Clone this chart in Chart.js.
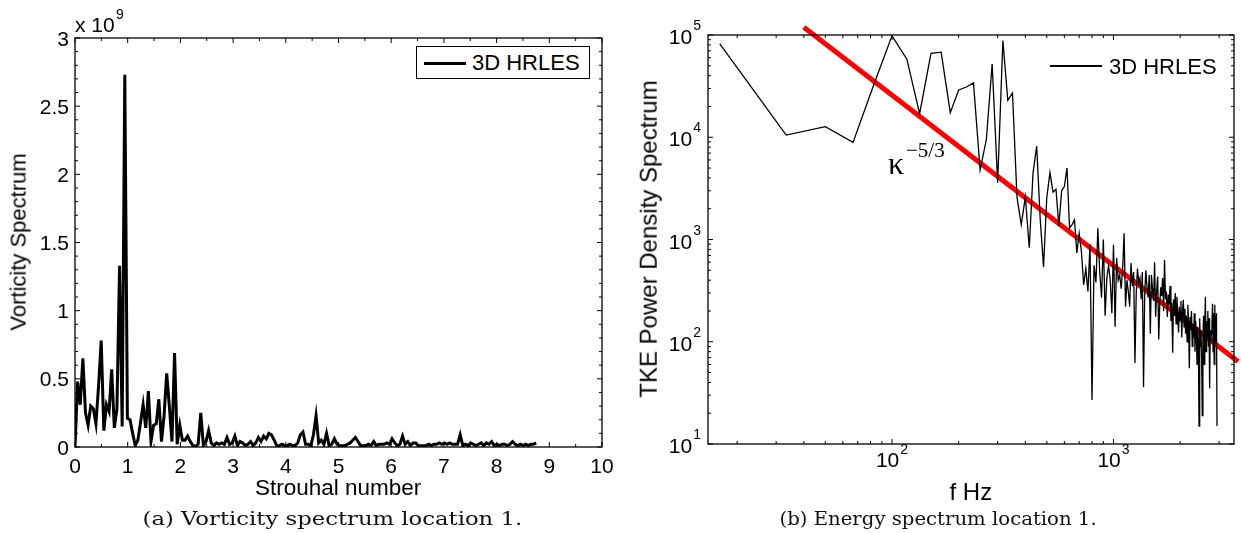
<!DOCTYPE html>
<html><head><meta charset="utf-8">
<script src="https://cdn.jsdelivr.net/npm/chart.js@4.4.1/dist/chart.umd.min.js"></script>
<style>
html,body{margin:0;padding:0;background:#fff;}
#wrap{position:relative;width:1241px;height:533px;overflow:hidden;background:#fff;}
.cv{position:absolute;top:0;}
.t{position:absolute;white-space:nowrap;font-family:'Liberation Sans',Arial,sans-serif;color:#000;line-height:1;}
.s{position:absolute;white-space:nowrap;font-family:'Liberation Serif','Times New Roman',serif;color:#000;line-height:1;}
.cap{position:absolute;white-space:nowrap;font-family:'DejaVu Serif',serif;color:#111;line-height:1;transform-origin:50% 50%;}
</style></head><body>
<div id="wrap">
  <div class="cv" style="left:0;width:620px;height:533px"><canvas id="c1" width="620" height="533"></canvas></div>
  <div class="cv" style="left:620px;width:621px;height:533px"><canvas id="c2" width="621" height="533"></canvas></div>
</div>
<script>
// ---------------- data ----------------
const seriesLabel = '3D HRLES';
const freqHz = [16.7,33.3,50,66.7,83.3,100,116.7,133.3,150,166.7,
183.3,200,216.7,233.3,250,266.7,283.3,300,316.7,333.3,
350,366.7,383.3,400,416.7,433.3,450,466.7,483.3,500,
516.7,533.3,550,566.7,583.3,600,616.7,633.3,650,666.7,
683.3,700,716.7,733.3,750,766.7,783.3,800,816.7,833.3,
850,866.7,883.3,900,916.7,933.3,950,966.7,983.3,1000,
1016.7,1033.3,1050,1066.7,1083.3,1100,1116.7,1133.3,1150,1166.7,
1183.3,1200,1216.7,1233.3,1250,1266.7,1283.3,1300,1316.7,1333.3,
1350,1366.7,1383.3,1400,1416.7,1433.3,1450,1466.7,1483.3,1500,
1516.7,1533.3,1550,1566.7,1583.3,1600,1616.7,1633.3,1650,1666.7,
1683.3,1700,1716.7,1733.3,1750,1766.7,1783.3,1800,1816.7,1833.3,
1850,1866.7,1883.3,1900,1916.7,1933.3,1950,1966.7,1983.3,2000,
2016.7,2033.3,2050,2066.7,2083.3,2100,2116.7,2133.3,2150,2166.7,
2183.3,2200,2216.7,2233.3,2250,2266.7,2283.3,2300,2316.7,2333.3,
2350,2366.7,2383.3,2400,2416.7,2433.3,2450,2466.7,2483.3,2500,
2516.7,2533.3,2550,2566.7,2583.3,2600,2616.7,2633.3,2650,2666.7,
2683.3,2700,2716.7,2733.3,2750,2766.7,2783.3,2800,2816.7,2833.3,
2850,2866.7,2883.3,2900,2916.7,2933.3];
const strouhalPerHz = 0.0029832;   // Strouhal number per Hz
// vorticity spectrum, units of 1e9 (first value is the 0 Hz bin)
const vorticity1e9 = [0,0.48,0.31,0.65,0.25,0.16,0.30,0.28,0.17,0.45,
0.78,0.12,0.31,0.26,0.57,0.14,0.28,1.33,0.15,2.73,
0.21,0.20,0.10,0.01,0.05,0.18,0.31,0.14,0.41,0.04,
0.16,0.17,0.35,0.04,0.23,0.54,0.30,0.04,0.69,0.02,
0.16,0.05,0.05,0.08,0.04,0.01,0.005,0.02,0.25,0.01,
0.04,0.12,0.03,0.01,0.03,0.02,0.03,0.02,0.07,0.02,
0.03,0.08,0.01,0.04,0.03,0.01,0.02,0.04,0.01,0.03,
0.07,0.04,0.08,0.06,0.10,0.09,0.05,0.01,0.01,0.02,
0.01,0.01,0.02,0.01,0.01,0.03,0.09,0.11,0.02,0.02,
0.01,0.09,0.23,0.03,0.05,0.02,0.10,0.01,0.02,0.06,
0.02,0.01,0.01,0.01,0.02,0.03,0.05,0.07,0.04,0.01,
0.01,0.01,0.02,0.01,0.04,0.01,0.02,0.02,0.02,0.03,
0.02,0.06,0.03,0.01,0.02,0.08,0.02,0.04,0.01,0.03,
0.03,0.01,0.01,0.01,0.01,0.02,0.01,0.02,0.02,0.03,
0.02,0.03,0.02,0.03,0.02,0.02,0.02,0.09,0.01,0.02,
0.01,0.03,0.02,0.01,0.02,0.03,0.01,0.03,0.02,0.04,
0.01,0.02,0.01,0.02,0.02,0.01,0.02,0.04,0.02,0.01,
0.02,0.01,0.02,0.01,0.02,0.02,0.03];
// TKE power density spectrum
const tkePsd = [82000,10500,12700,8900,34000,98000,58000,17000,66000,68000,
17400,29000,31000,34000,4800,9500,52000,3600,88000,23000,
27000,2600,1400,2600,830,4500,8200,1600,540,2600,
4500,2900,3100,1350,3000,3300,5000,1300,1400,1550,
740,1150,760,360,520,310,900,27,560,380,
1290,480,270,1000,180,420,560,400,190,890,
140,660,400,450,330,520,1150,220,400,310,
220,590,350,480,62,300,520,380,420,260,
480,36,300,500,340,270,450,120,450,330,
250,600,176,320,435,105,220,340,280,420,
200,630,260,310,175,290,230,350,160,240,
78,260,180,300,150,275,190,123,220,160,
250,110,200,257,140,210,120,180,100,230,
150,55,175,130,200,90,150,110,190,80,
160,120,60,140,100,15,170,90,130,70,
19,100,180,60,150,275,80,160,110,200,
90,170,35,130,100,120,150,235,80,190,
60,230,100,140,190,15];
// kappa^-5/3 reference line end points
const slopeLineHz = [40, 3650];
const slopeLinePsd = [119000, 64];

// ticks
const leftXTicks = [0,1,2,3,4,5,6,7,8,9,10];
const leftXTickLabels = ['0','1','2','3','4','5','6','7','8','9','10'];
const leftXMinor = [0.5,1.5,2.5,3.5,4.5,5.5,6.5,7.5,8.5,9.5];
const leftYTicks = [0,0.5,1,1.5,2,2.5,3];
const leftYTickLabels = ['0','0.5','1','1.5','2','2.5','3'];
const leftYMinor = [0.1,0.2,0.3,0.4,0.6,0.7,0.8,0.9,1.1,1.2,1.3,1.4,1.6,1.7,1.8,1.9,2.1,2.2,2.3,2.4,2.6,2.7,2.8,2.9];
const rightXTicks = [100,1000];
const rightXExp = ['2','3'];
const rightXMinor = [20,30,40,50,60,70,80,90,200,300,400,500,600,700,800,900,2000,3000];
const rightYTicks = [10,100,1000,10000,100000];
const rightYExp = ['1','2','3','4','5'];
const rightYMinor = [20,30,40,50,60,70,80,90,200,300,400,500,600,700,800,900,2000,3000,4000,5000,6000,7000,8000,9000,20000,30000,40000,50000,60000,70000,80000,90000];

// ---------------- drawing ----------------
const FONT = "'Liberation Sans', Arial, sans-serif";
const boxAxes = {
  id: 'boxAxes',
  afterDraw(chart, args, o) {
    const {ctx, chartArea: a} = chart;
    const sx = chart.scales.x, sy = chart.scales.y;
    ctx.save();
    ctx.strokeStyle = '#000';
    ctx.lineWidth = 1;
    const seg = (x1,y1,x2,y2) => {ctx.beginPath();ctx.moveTo(x1,y1);ctx.lineTo(x2,y2);ctx.stroke();};
    const tx = (vals,len) => vals.forEach(v => {const p = sx.getPixelForValue(v); seg(p,a.bottom,p,a.bottom-len); seg(p,a.top,p,a.top+len);});
    const ty = (vals,len) => vals.forEach(v => {const p = sy.getPixelForValue(v); seg(a.left,p,a.left+len,p); seg(a.right,p,a.right-len,p);});
    tx(o.xMinor, 3); tx(o.xMajor, 5); ty(o.yMinor, 3); ty(o.yMajor, 5);
    ctx.lineWidth = 1.3;
    ctx.strokeRect(a.left, a.top, a.right - a.left, a.bottom - a.top);
    ctx.fillStyle = '#000';
    ctx.textBaseline = 'alphabetic';
    if (o.mode === 'linear') {
      ctx.font = '21px ' + FONT;
      ctx.textAlign = 'center';
      o.xMajor.forEach((v,i) => ctx.fillText(o.xLabels[i], sx.getPixelForValue(v), a.bottom + 26));
      ctx.textAlign = 'right';
      o.yMajor.forEach((v,i) => ctx.fillText(o.yLabels[i], a.left - 6, sy.getPixelForValue(v) + 7.5));
    } else {
      const big = '21px ' + FONT, small = '14px ' + FONT;
      const pw = (e) => { ctx.font = big; const w1 = ctx.measureText('10').width; ctx.font = small; const w2 = ctx.measureText(e).width; return [w1, w2]; };
      ctx.textAlign = 'left';
      o.xMajor.forEach((v,i) => {
        const p = sx.getPixelForValue(v); const [w1,w2] = pw(o.xLabels[i]); const x0 = p - (w1 + w2 + 1)/2;
        ctx.font = big; ctx.fillText('10', x0, a.bottom + 23);
        ctx.font = small; ctx.fillText(o.xLabels[i], x0 + w1 + 1, a.bottom + 10);
      });
      o.yMajor.forEach((v,i) => {
        const p = sy.getPixelForValue(v); const [w1,w2] = pw(o.yLabels[i]); const x0 = a.left - 7 - w2 - 1 - w1;
        ctx.font = big; ctx.fillText('10', x0, p + 9);
        ctx.font = small; ctx.fillText(o.yLabels[i], x0 + w1 + 1, p - 5);
      });
    }
    ctx.restore();
  }
};

const noTicks = {display:false};
const noGrid = {display:false, drawTicks:false};
const noBorder = {display:false};

const leftChart = new Chart(document.getElementById('c1'), {
  type: 'line',
  data: { datasets: [{
    label: seriesLabel,
    data: vorticity1e9.map((v,i) => ({x: i === 0 ? 0 : freqHz[i-1] * strouhalPerHz, y: v})),
    borderColor: '#000', borderWidth: 3, pointRadius: 0, tension: 0, fill: false
  }]},
  options: {
    responsive: false, animation: false, events: [],
    layout: {padding: {left: 0, top: 38, right: 18, bottom: 0}},
    plugins: {legend: {display: false}, tooltip: {enabled: false},
      boxAxes: {mode: 'linear', xMajor: leftXTicks, xMinor: leftXMinor, yMajor: leftYTicks, yMinor: leftYMinor, xLabels: leftXTickLabels, yLabels: leftYTickLabels}},
    scales: {
      x: {type: 'linear', bounds: 'data', min: 0, max: 10, ticks: noTicks, grid: noGrid, border: noBorder, afterFit(s){ s.height = 86; }},
      y: {type: 'linear', bounds: 'data', min: 0, max: 3, ticks: noTicks, grid: noGrid, border: noBorder, afterFit(s){ s.width = 75; }}
    }
  },
  plugins: [boxAxes]
});

const rightChart = new Chart(document.getElementById('c2'), {
  type: 'line',
  data: { datasets: [
    { label: seriesLabel,
      data: tkePsd.map((v,i) => ({x: freqHz[i], y: v})),
      borderColor: '#000', borderWidth: 1.3, pointRadius: 0, tension: 0, fill: false },
    { label: 'kappa^-5/3',
      data: slopeLineHz.map((f,i) => ({x: f, y: slopeLinePsd[i]})),
      borderColor: '#ff0000', borderWidth: 5, pointRadius: 0, tension: 0, fill: false, clip: false }
  ]},
  options: {
    responsive: false, animation: false, events: [],
    layout: {padding: {left: 0, top: 35, right: 7, bottom: 0}},
    plugins: {legend: {display: false}, tooltip: {enabled: false},
      boxAxes: {mode: 'log', xMajor: rightXTicks, xMinor: rightXMinor, yMajor: rightYTicks, yMinor: rightYMinor, xLabels: rightXExp, yLabels: rightYExp}},
    scales: {
      x: {type: 'logarithmic', bounds: 'data', min: 14.77, max: 3500, ticks: noTicks, grid: noGrid, border: noBorder, afterFit(s){ s.height = 89; }},
      y: {type: 'logarithmic', bounds: 'data', min: 10, max: 100000, ticks: noTicks, grid: noGrid, border: noBorder, afterFit(s){ s.width = 88; }}
    }
  },
  plugins: [boxAxes]
});

// ---------------- HTML text ----------------
const wrap = document.getElementById('wrap');
function addText(cls, text, css) {
  const d = document.createElement('div');
  d.className = cls; d.textContent = text;
  Object.assign(d.style, css);
  wrap.appendChild(d);
  return d;
}
function addBox(css) { const d = document.createElement('div'); d.style.position = 'absolute'; Object.assign(d.style, css); wrap.appendChild(d); return d; }

// left: exponent label
const xl = addText('t', 'x 10', {left: '75px', top: (32 - 0.8465*21) + 'px', fontSize: '21px'});
addText('t', '9', {left: (75 + xl.offsetWidth + 1) + 'px', top: (19 - 0.8465*14) + 'px', fontSize: '14px'});

// axis titles
function centered(cls, text, cx, baseline, size, asc) {
  const d = addText(cls, text, {fontSize: size + 'px', top: (baseline - asc*size) + 'px', left: '0px'});
  d.style.left = (cx - d.offsetWidth/2) + 'px';
  return d;
}
centered('t', 'Strouhal number', 338, 496, 22.5, 0.8465);
centered('t', 'f Hz', 971, 500, 24, 0.8465);
function rotated(text, cx, cy, size) {
  const d = addText('t', text, {fontSize: size + 'px', left: '0px', top: '0px'});
  const w = d.offsetWidth, h = d.offsetHeight;
  d.style.left = (cx - w/2) + 'px'; d.style.top = (cy - h/2) + 'px';
  d.style.transform = 'rotate(-90deg)';
}
rotated('Vorticity Spectrum', 18, 241.5, 22);
rotated('TKE Power Density Spectrum', 648, 239, 24);

// captions (stretched to the reference width)
function caption(text, cx, baseline, size, width) {
  const d = addText('cap', text, {fontSize: size + 'px', top: (baseline - 0.78*size) + 'px', left: '0px'});
  const w = d.offsetWidth;
  d.style.left = (cx - w/2) + 'px';
  d.style.transform = 'scaleX(' + (width / w) + ')';
}
caption('(a) Vorticity spectrum location 1.', 332, 524, 18, 380);
caption('(b) Energy spectrum location 1.', 937.5, 524, 18, 317);

// legends
const ds1 = leftChart.data.datasets[0], ds2 = rightChart.data.datasets[0];
addBox({left: '416px', top: '46px', width: '174px', height: '33px', border: '1px solid #000', boxSizing: 'border-box', background: '#fff'});
addBox({left: '424px', top: '61.5px', width: '42px', height: '3px', background: ds1.borderColor});
addText('t', ds1.label, {left: '472px', top: (70.5 - 0.8465*22) + 'px', fontSize: '22px'});
addBox({left: '1050px', top: '65.4px', width: '52px', height: '1.3px', background: ds2.borderColor});
addText('t', ds2.label, {left: '1109px', top: (75 - 0.8465*22) + 'px', fontSize: '22px'});

// kappa^-5/3 annotation
addText('s', 'κ', {left: '888px', top: (174 - 0.8375*32) + 'px', fontSize: '32px'});
addText('s', '−5/3', {left: '906px', top: (158 - 0.8375*21) + 'px', fontSize: '21px'});
</script>
</body></html>
